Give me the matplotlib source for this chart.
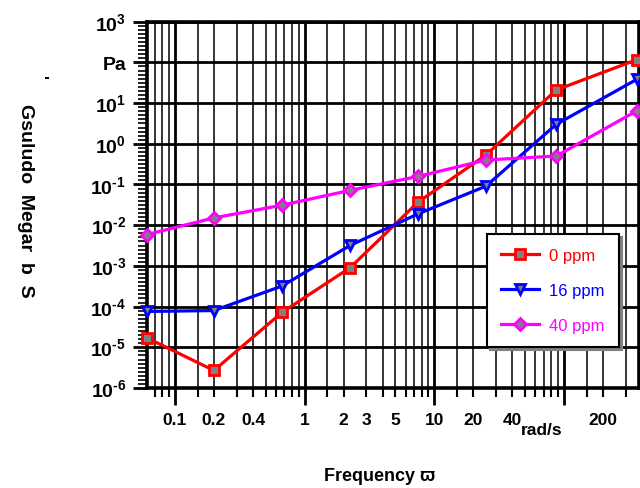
import numpy as np
import matplotlib
matplotlib.use("Agg")
import matplotlib.pyplot as plt

plt.rcParams['font.family'] = ['Liberation Sans', 'DejaVu Sans']
plt.rcParams['font.weight'] = 'bold'
plt.rcParams['mathtext.fontset'] = 'custom'
plt.rcParams['mathtext.rm'] = 'Liberation Sans:bold'
plt.rcParams['mathtext.bf'] = 'Liberation Sans:bold'

# frequency (rad/s) and storage modulus G' (Pa)
freq = [0.061, 0.2, 0.67, 2.25, 7.5, 25, 87, 362]
g_0ppm = [1.7e-5, 2.7e-6, 7.2e-5, 9.1e-4, 0.037, 0.53, 21, 116]
g_16ppm = [7.6e-5, 8.0e-5, 3.2e-4, 3.2e-3, 0.019, 0.091, 3.0, 38]
g_40ppm = [5.9e-3, 0.0151, 0.031, 0.072, 0.158, 0.40, 0.50, 6.4]

series_names = ['0 ppm', '16 ppm', '40 ppm']
series_colors = ['#ff0000', '#0000ff', '#ff00ff']
series_markers = ['s', 'v', 'D']

x_major = [0.1, 1, 10, 100]
x_major_labels = ['0.1', '1', '10', '']
x_minor_labels = {0.2: '0.2', 0.4: '0.4', 2: '2', 3: '3', 5: '5',
                  20: '20', 40: '40', 200: '200'}
y_exps = [-6, -5, -4, -3, -2, -1, 0, 1, 2, 3]

fig = plt.figure(figsize=(6.4, 4.89), dpi=100)
ax = fig.add_axes([0.2297, 0.2045, 0.7687, 0.7491])
ax.set_xscale('log')
ax.set_yscale('log')
ax.set_xlim(0.061, 378)
ax.set_ylim(1e-6, 1e3)

for ys, name, col, mk in zip([g_0ppm, g_16ppm, g_40ppm], series_names,
                             series_colors, series_markers):
    ms = 6 if mk == 'D' else 7.5
    ax.plot(freq, ys, color=col, lw=2.3, marker=mk, ms=ms,
            markerfacecolor='#808080', markeredgecolor=col, mew=2,
            label=name, clip_on=False, zorder=3)

# x ticks: decades long, sub-ticks short, labels only at some
subs = [1.5, 2, 3, 4, 5, 6, 7, 8, 9]
x_minor = []
for d in [0.01, 0.1, 1, 10, 100]:
    for s in subs:
        v = d * s
        if 0.061 < v < 378:
            x_minor.append(v)
minor_lbls = []
for v in x_minor:
    lab = ''
    for k, t in x_minor_labels.items():
        if np.isclose(v, k):
            lab = t
    minor_lbls.append(lab)
ax.set_xticks(x_major, x_major_labels)
ax.set_xticks(x_minor, minor_lbls, minor=True)

y_labels = []
for e in y_exps:
    if e == 2:
        y_labels.append('Pa')
    else:
        y_labels.append(r'$10^{%s}$' % str(e).replace('-', '\u2010'))
ax.set_yticks([10.0 ** e for e in y_exps], y_labels)
y_minor = [10.0 ** (k + j / 10) for k in range(-6, 3) for j in range(1, 10)]
ax.set_yticks(y_minor, minor=True)
ax.set_yticklabels([], minor=True)

ax.tick_params(axis='x', which='major', length=12, width=2, pad=5,
               labelsize=12.5)
ax.tick_params(axis='x', which='minor', length=6.5, width=1.5, pad=10.5,
               labelsize=12.5)
ax.tick_params(axis='y', which='major', length=10, width=2, pad=5,
               labelsize=14)
ax.tick_params(axis='y', which='minor', length=6.5, width=1.2)

ax.set_axisbelow(True)
ax.grid(True, which='major', axis='both', color='black', lw=2)
ax.grid(True, which='minor', axis='x', color='black', lw=1.1)
for sp in ax.spines.values():
    sp.set_linewidth(2.6)

leg = ax.legend(loc='upper left', bbox_to_anchor=(0.691, 0.42),
                borderaxespad=0, labelcolor='linecolor', fancybox=False,
                prop={'size': 12, 'weight': 'normal'},
                framealpha=1, edgecolor='black', handlelength=2.3,
                handletextpad=0.6, labelspacing=1.2, borderpad=0.85,
                shadow={'color': '0.5', 'alpha': 1})
leg.get_frame().set_linewidth(1.5)

# axis texts
fig.text(542 / 640, 1 - 431 / 489, 'rad/s', ha='center', va='center',
         fontsize=12.5)
fig.text(380 / 640, 1 - 477 / 489, 'Frequency \u03d6', ha='center',
         va='center', fontsize=13)
fig.text(25 / 640, 1 - 201 / 489, 'Gsuludo  Megar  b  S', rotation=270,
         ha='center', va='center', fontsize=14)
fig.text(39 / 640, 1 - 78 / 489, "'", rotation=270, ha='center',
         va='center', fontsize=12)

fig.savefig('out.png', dpi=100)
